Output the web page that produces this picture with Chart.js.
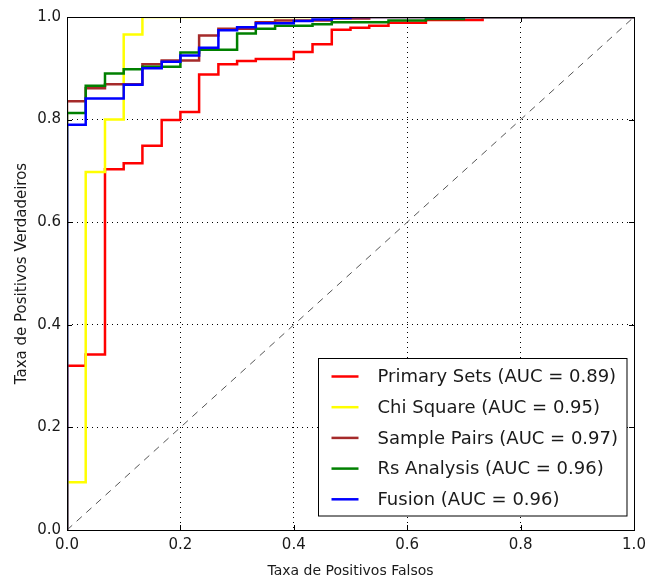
<!DOCTYPE html>
<html>
<head>
<meta charset="utf-8">
<script src="https://cdn.jsdelivr.net/npm/chart.js@4/dist/chart.umd.min.js"></script>
<style>
  html, body { margin: 0; padding: 0; background: #fff; }
  #wrap { width: 646px; height: 584px; }
</style>
</head>
<body>
<div id="wrap"><canvas id="myChart"></canvas></div>
<script>
const seriesNames = ["Primary Sets (AUC = 0.89)", "Chi Square (AUC = 0.95)", "Sample Pairs (AUC = 0.97)", "Rs Analysis (AUC = 0.96)", "Fusion (AUC = 0.96)"];
const seriesColors = ["#ff0000", "#ffff00", "#a52a2a", "#008000", "#0000ff"];

const fprPrimary = [0, 0, 0.033, 0.067, 0.1, 0.133, 0.167, 0.2, 0.233, 0.267, 0.3, 0.333, 0.4, 0.433, 0.467, 0.5, 0.533, 0.567, 0.633, 0.733, 1];
const tprPrimary = [0, 0.32, 0.342, 0.703, 0.715, 0.749, 0.799, 0.815, 0.888, 0.908, 0.914, 0.918, 0.932, 0.947, 0.975, 0.979, 0.983, 0.989, 0.994, 1, 1];

const fprChi = [0, 0, 0.033, 0.067, 0.1, 0.133, 1];
const tprChi = [0, 0.093, 0.698, 0.8, 0.966, 1, 1];

const fprPairs = [0, 0, 0.033, 0.067, 0.133, 0.167, 0.233, 0.267, 0.333, 0.367, 0.467, 0.533, 1];
const tprPairs = [0, 0.836, 0.861, 0.869, 0.908, 0.915, 0.964, 0.977, 0.99, 0.993, 0.997, 1, 1];

const fprRs = [0, 0, 0.033, 0.067, 0.1, 0.133, 0.2, 0.233, 0.3, 0.333, 0.367, 0.433, 0.467, 0.567, 0.633, 0.7, 1];
const tprRs = [0, 0.813, 0.866, 0.89, 0.898, 0.903, 0.931, 0.936, 0.968, 0.977, 0.983, 0.986, 0.99, 0.993, 0.996, 1, 1];

const fprFusion = [0, 0, 0.033, 0.1, 0.133, 0.167, 0.2, 0.233, 0.267, 0.3, 0.333, 0.4, 0.433, 0.467, 0.5, 1];
const tprFusion = [0, 0.79, 0.841, 0.868, 0.9, 0.913, 0.925, 0.94, 0.974, 0.98, 0.988, 0.992, 0.995, 0.998, 1, 1];

const chanceLine = [0, 1];
const tickValues = [0, 0.2, 0.4, 0.6, 0.8, 1.0];

const fprAll = [fprPrimary, fprChi, fprPairs, fprRs, fprFusion];
const tprAll = [tprPrimary, tprChi, tprPairs, tprRs, tprFusion];

function toPoints(xs, ys) {
  return xs.map((x, i) => ({ x: x, y: ys[i] }));
}

const datasets = seriesNames.map((name, i) => ({
  label: name,
  data: toPoints(fprAll[i], tprAll[i]),
  borderColor: seriesColors[i],
  borderWidth: 2.5,
  pointRadius: 0,
  stepped: "before",
  fill: false,
  order: 5 - i,
}));

datasets.push({
  label: "chance",
  data: toPoints(chanceLine, chanceLine),
  borderColor: "#555",
  borderWidth: 1,
  borderDash: [7, 6],
  pointRadius: 0,
  fill: false,
  order: 10,
});

// frame, inward tick marks and the legend box (matplotlib style)
const axesDecor = {
  id: "axesDecor",
  afterDatasetsDraw(chart) {
    const ctx = chart.ctx;
    const a = chart.chartArea;
    const xs = chart.scales.x, ys = chart.scales.y;
    ctx.save();
    ctx.strokeStyle = "#000";
    ctx.lineWidth = 1;
    ctx.beginPath();
    tickValues.forEach(v => {
      const px = Math.round(xs.getPixelForValue(v)) + 0.5;
      ctx.moveTo(px, a.bottom); ctx.lineTo(px, a.bottom - 5);
      ctx.moveTo(px, a.top); ctx.lineTo(px, a.top + 5);
      const py = Math.round(ys.getPixelForValue(v)) + 0.5;
      ctx.moveTo(a.left, py); ctx.lineTo(a.left + 5, py);
      ctx.moveTo(a.right, py); ctx.lineTo(a.right - 5, py);
    });
    ctx.stroke();
    ctx.strokeRect(Math.round(a.left) + 0.5, Math.round(a.top) + 0.5, Math.round(a.right - a.left), Math.round(a.bottom - a.top));

    // legend
    ctx.font = "18px 'DejaVu Sans'";
    let maxW = 0;
    seriesNames.forEach(n => { maxW = Math.max(maxW, ctx.measureText(n).width); });
    const rowH = 30.7;
    const boxW = maxW + 68;
    const boxH = rowH * seriesNames.length + 4;
    const bx = Math.round(a.right - 8 - boxW) + 0.5;
    const by = Math.round(a.bottom - 15 - boxH) + 0.5;
    ctx.fillStyle = "#fff";
    ctx.fillRect(bx, by, boxW, boxH);
    ctx.strokeStyle = "#000";
    ctx.strokeRect(bx, by, boxW, boxH);
    ctx.textBaseline = "middle";
    ctx.textAlign = "left";
    seriesNames.forEach((n, i) => {
      const cy = by + 18 + i * rowH;
      ctx.strokeStyle = seriesColors[i];
      ctx.lineWidth = 2.5;
      ctx.beginPath();
      ctx.moveTo(bx + 13, cy); ctx.lineTo(bx + 40, cy);
      ctx.stroke();
      ctx.fillStyle = "#1a1a1a";
      ctx.fillText(n, bx + 59, cy + 1);
    });
    ctx.restore();
  }
};

const tickFont = { family: "DejaVu Sans", size: 15 };

const config = {
  type: "line",
  data: { datasets: datasets },
  options: {
    responsive: true,
    maintainAspectRatio: false,
    animation: false,
    layout: { padding: { left: 0, right: 12, top: 17, bottom: 0 } },
    scales: {
      x: {
        type: "linear",
        min: 0,
        max: 1,
        afterFit: s => { s.height = 54; s.paddingRight = 0; },
        afterBuildTicks: s => { s.ticks = tickValues.map(v => ({ value: v })); },
        grid: { color: "#000", lineWidth: 1, drawTicks: false },
        border: { display: false, dash: [1, 4] },
        ticks: {
          font: tickFont,
          color: "#1a1a1a",
          padding: 6,
          callback: v => v.toFixed(1),
        },
        title: {
          display: true,
          text: "Taxa de Positivos Falsos",
          font: { family: "DejaVu Sans", size: 14 },
          color: "#1a1a1a",
          padding: { top: 2, bottom: 4 },
        },
      },
      y: {
        type: "linear",
        min: 0,
        max: 1,
        afterFit: s => { s.width = 67; },
        afterBuildTicks: s => { s.ticks = tickValues.map(v => ({ value: v })); },
        grid: { color: "#000", lineWidth: 1, drawTicks: false },
        border: { display: false, dash: [1, 4] },
        ticks: {
          font: tickFont,
          color: "#1a1a1a",
          padding: 6,
          callback: v => v.toFixed(1),
        },
        title: {
          display: true,
          text: "Taxa de Positivos Verdadeiros",
          font: { family: "DejaVu Sans", size: 15 },
          color: "#1a1a1a",
          padding: { top: 13, bottom: 2 },
        },
      },
    },
    plugins: {
      legend: { display: false },
      tooltip: { enabled: false },
    },
  },
  plugins: [axesDecor],
};

const myChart = new Chart(document.getElementById("myChart").getContext("2d"), config);
</script>
</body>
</html>
